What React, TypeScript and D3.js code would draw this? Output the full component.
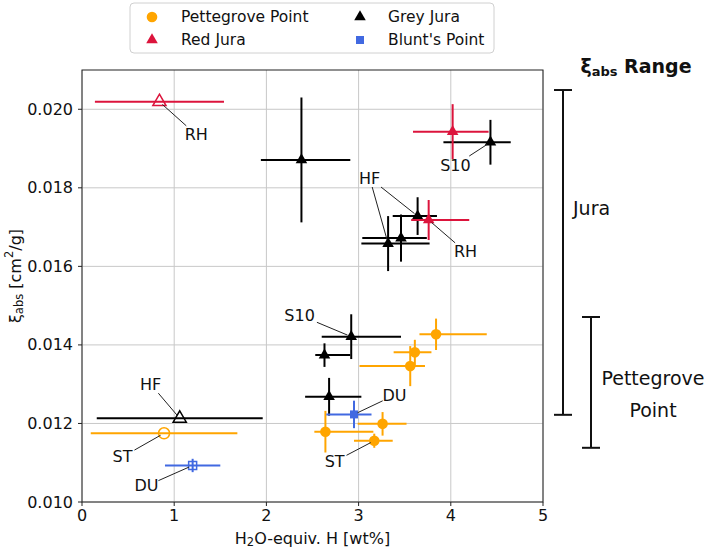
import React from "react";
import * as d3 from "d3";

// Pettegrove Point (filled circles)
const pettegroveX = [3.84, 3.61, 3.56, 3.26, 2.64, 3.17];
const pettegroveY = [0.01427, 0.01381, 0.01346, 0.01199, 0.01179, 0.01156];
const pettegroveXLo = [0.18, 0.23, 0.55, 0.27, 0.12, 0.22];
const pettegroveXHi = [0.55, 0.18, 0.16, 0.26, 0.52, 0.2];
const pettegroveYErr = [0.0004, 0.00032, 0.00051, 0.0003, 0.00053, 0.00018];

// Red Jura (filled triangles)
const redJuraX = [4.02, 3.76];
const redJuraY = [0.01943, 0.01718];
const redJuraXLo = [0.43, 0.19];
const redJuraXHi = [0.39, 0.44];
const redJuraYErr = [0.0007, 0.00051];

// Grey Jura (filled triangles)
const greyJuraX = [2.38, 4.43, 3.64, 3.32, 3.46, 2.92, 2.63, 2.68];
const greyJuraY = [0.01871, 0.01916, 0.01728, 0.01658, 0.01672, 0.01421, 0.01374, 0.01268];
const greyJuraXLo = [0.44, 0.51, 0.27, 0.29, 0.42, 0.32, 0.1, 0.26];
const greyJuraXHi = [0.53, 0.22, 0.21, 0.45, 0.28, 0.54, 0.28, 0.35];
const greyJuraYErr = [0.00159, 0.00057, 0.00048, 0.0007, 0.0006, 0.00057, 0.0003, 0.00048];

// Blunt's Point (filled squares)
const bluntX = [2.95];
const bluntY = [0.01223];
const bluntXLo = [0.3];
const bluntXHi = [0.19];
const bluntYErr = [0.00035];

// open markers, one per group: pettegrove, red, grey, blunt
const openX = [0.89, 0.84, 1.06, 1.2];
const openY = [0.01175, 0.02019, 0.01213, 0.01093];
const openXErr = [0.795, 0.7, 0.9, 0.3];
const openYErr = [0, 0, 0, 0.00017];

// point labels: text, label position (data), targets [group, index]
const annotText = ["RH", "RH", "S10", "HF", "S10", "DU", "ST", "HF", "ST", "DU"];
const annotX = [1.24, 4.16, 4.05, 3.12, 2.36, 3.39, 2.74, 0.745, 0.44, 0.7];
const annotY = [0.01935, 0.01637, 0.01858, 0.01825, 0.01476, 0.01272, 0.01103, 0.013, 0.01115, 0.01041];
const annotTargets: [string, number][][] = [
  [["open", 1]],
  [["red", 1]],
  [["grey", 1]],
  [["grey", 2], ["grey", 3]],
  [["grey", 5]],
  [["blunt", 0]],
  [["pettegrove", 5]],
  [["open", 2]],
  [["open", 0]],
  [["open", 3]],
];

// xi_abs ranges on the right
const rangeLabels = ["Jura", "Pettegrove Point"];
const rangeLo = [0.01222, 0.01138];
const rangeHi = [0.02049, 0.01471];

const xTicks = [0, 1, 2, 3, 4, 5];
const yTicks = [0.01, 0.012, 0.014, 0.016, 0.018, 0.02];

const W = 709, H = 548;
const left = 82, right = 543, top = 70, bottom = 502;
const FONT = "DejaVu Sans";

const ORANGE = "#ffa500";
const CRIMSON = "#dc143c";
const BLACK = "#000000";
const BLUE = "#4169e1";

const x = d3.scaleLinear().domain([0, 5]).range([left, right]);
const y = d3.scaleLinear().domain([0.01, 0.021]).range([bottom, top]);

const tri = d3.symbol().type(d3.symbolTriangle).size(58)()!;
const triOpen = d3.symbol().type(d3.symbolTriangle).size(75)()!;
const sq = d3.symbol().type(d3.symbolSquare).size(64)()!;

type Series = {
  key: string; color: string; shape: string;
  xs: number[]; ys: number[]; xlo: number[]; xhi: number[]; yerr: number[];
};

const series: Series[] = [
  { key: "pettegrove", color: ORANGE, shape: "circle", xs: pettegroveX, ys: pettegroveY, xlo: pettegroveXLo, xhi: pettegroveXHi, yerr: pettegroveYErr },
  { key: "grey", color: BLACK, shape: "tri", xs: greyJuraX, ys: greyJuraY, xlo: greyJuraXLo, xhi: greyJuraXHi, yerr: greyJuraYErr },
  { key: "red", color: CRIMSON, shape: "tri", xs: redJuraX, ys: redJuraY, xlo: redJuraXLo, xhi: redJuraXHi, yerr: redJuraYErr },
  { key: "blunt", color: BLUE, shape: "square", xs: bluntX, ys: bluntY, xlo: bluntXLo, xhi: bluntXHi, yerr: bluntYErr },
];
const openColors = [ORANGE, CRIMSON, BLACK, BLUE];
const openShapes = ["circle", "tri", "tri", "square"];

function marker(shape: string, color: string, cx: number, cy: number, open = false) {
  const fill = open ? "none" : color;
  const sw = open ? 1.5 : 0;
  if (shape === "circle")
    return <circle cx={cx} cy={cy} r={open ? 5.5 : 5.3} fill={open ? "none" : color} stroke={color} strokeWidth={open ? 1.5 : 0} />;
  if (shape === "tri")
    return <path d={open ? triOpen : tri} transform={`translate(${cx},${cy})`} fill={fill} stroke={color} strokeWidth={sw} />;
  return <path d={sq} transform={`translate(${cx},${cy})`} fill={fill} stroke={color} strokeWidth={sw} />;
}

function targetPos(g: string, i: number): [number, number] {
  if (g === "open") return [x(openX[i]), y(openY[i])];
  const s = series.find((d) => d.key === g)!;
  return [x(s.xs[i]), y(s.ys[i])];
}

// line from the label's box edge to the marker, as matplotlib's annotate draws it
function labelLine(lx: number, ly: number, tx: number, ty: number, text: string, fs: number) {
  const hw = (text.length * 0.68 * fs) / 2 + 1;
  const hh = fs * 0.5 + 1;
  const dx = tx - lx, dy = ty - ly;
  const t = Math.min(Math.abs(dx) > 0 ? hw / Math.abs(dx) : Infinity, Math.abs(dy) > 0 ? hh / Math.abs(dy) : Infinity);
  const sx = lx + dx * t, sy = ly + dy * t;
  const len = Math.hypot(tx - sx, ty - sy);
  const shrink = 4;
  const ex = tx - ((tx - sx) / len) * shrink, ey = ty - ((ty - sy) / len) * shrink;
  return d3.line()([[sx, sy], [ex, ey]])!;
}

export default function App() {
  const fs = 16;
  const jx = 563, px = 591, cap = 9;
  return (
    <svg width={W} height={H} style={{ position: "absolute", left: 0, top: 0, background: "white" }} fontFamily={FONT}>
      {/* grid */}
      {xTicks.map((t) => (
        <line key={"gx" + t} x1={x(t)} x2={x(t)} y1={top} y2={bottom} stroke="#c8c8c8" strokeWidth={1} />
      ))}
      {yTicks.map((t) => (
        <line key={"gy" + t} x1={left} x2={right} y1={y(t)} y2={y(t)} stroke="#c8c8c8" strokeWidth={1} />
      ))}

      {/* open reference points */}
      {openX.map((v, i) => (
        <g key={"o" + i}>
          <line x1={x(v - openXErr[i])} x2={x(v + openXErr[i])} y1={y(openY[i])} y2={y(openY[i])} stroke={openColors[i]} strokeWidth={2} />
          {openYErr[i] > 0 && (
            <line x1={x(v)} x2={x(v)} y1={y(openY[i] - openYErr[i])} y2={y(openY[i] + openYErr[i])} stroke={openColors[i]} strokeWidth={2} />
          )}
          {marker(openShapes[i], openColors[i], x(v), y(openY[i]), true)}
        </g>
      ))}

      {/* series with error bars */}
      {series.map((s) => (
        <g key={s.key}>
          {s.xs.map((v, i) => (
            <g key={i}>
              <line x1={x(v - s.xlo[i])} x2={x(v + s.xhi[i])} y1={y(s.ys[i])} y2={y(s.ys[i])} stroke={s.color} strokeWidth={2} />
              <line x1={x(v)} x2={x(v)} y1={y(s.ys[i] - s.yerr[i])} y2={y(s.ys[i] + s.yerr[i])} stroke={s.color} strokeWidth={2} />
              {marker(s.shape, s.color, x(v), y(s.ys[i]))}
            </g>
          ))}
        </g>
      ))}

      {/* annotations */}
      {annotText.map((t, i) => {
        const lx = x(annotX[i]), ly = y(annotY[i]);
        return (
          <g key={"a" + i}>
            {annotTargets[i].map(([g, j], k) => {
              const [tx, ty] = targetPos(g, j);
              return <path key={k} d={labelLine(lx, ly, tx, ty, t, 16)} stroke="#222" strokeWidth={1} fill="none" />;
            })}
            <text x={lx} y={ly} textAnchor="middle" dominantBaseline="central" fontSize={16} fill="#111">{t}</text>
          </g>
        );
      })}

      {/* frame */}
      <rect x={left} y={top} width={right - left} height={bottom - top} fill="none" stroke="#222" strokeWidth={1} />

      {/* x axis */}
      {xTicks.map((t) => (
        <g key={"xt" + t}>
          <line x1={x(t)} x2={x(t)} y1={bottom} y2={bottom + 4} stroke="#222" />
          <text x={x(t)} y={bottom + 13} textAnchor="middle" dominantBaseline="central" fontSize={fs} fill="#111">{t}</text>
        </g>
      ))}
      <text x={(left + right) / 2} y={538} textAnchor="middle" dominantBaseline="central" fontSize={fs} fill="#111">
        H<tspan fontSize={11.5} dy={4}>2</tspan><tspan dy={-4}>O-equiv. H [wt%]</tspan>
      </text>

      {/* y axis */}
      {yTicks.map((t) => (
        <g key={"yt" + t}>
          <line x1={left - 4} x2={left} y1={y(t)} y2={y(t)} stroke="#222" />
          <text x={left - 9} y={y(t)} textAnchor="end" dominantBaseline="central" fontSize={fs} fill="#111">{d3.format(".3f")(t)}</text>
        </g>
      ))}
      <text transform={`translate(15,${(top + bottom) / 2 - 10}) rotate(-90)`} textAnchor="middle" dominantBaseline="central" fontSize={fs} fill="#111">
        ξ<tspan fontSize={11.5} dy={4}>abs</tspan><tspan dy={-4}> [cm</tspan><tspan fontSize={11.5} dy={-6}>2</tspan><tspan dy={6}>/g]</tspan>
      </text>

      {/* legend */}
      <rect x={130} y={3} width={364} height={50} rx={4} fill="white" fillOpacity={0.8} stroke="#d0d0d0" />
      {marker("circle", ORANGE, 152, 17)}
      <text x={181} y={17} dominantBaseline="central" fontSize={15.5} fill="#111">Pettegrove Point</text>
      {marker("tri", CRIMSON, 152, 40)}
      <text x={181} y={40} dominantBaseline="central" fontSize={15.5} fill="#111">Red Jura</text>
      {marker("tri", BLACK, 360, 17)}
      <text x={388} y={17} dominantBaseline="central" fontSize={15.5} fill="#111">Grey Jura</text>
      {marker("square", BLUE, 360, 40)}
      <text x={388} y={40} dominantBaseline="central" fontSize={15.5} fill="#111">Blunt's Point</text>

      {/* range panel */}
      <text x={636} y={66} textAnchor="middle" dominantBaseline="central" fontSize={19} fontWeight="bold" fill="#111">
        ξ<tspan fontSize={13} dy={5}>abs</tspan><tspan dy={-5}> Range</tspan>
      </text>
      {[jx, px].map((bx, i) => (
        <g key={"r" + i} stroke="#111" strokeWidth={2}>
          <line x1={bx} x2={bx} y1={y(rangeLo[i])} y2={y(rangeHi[i])} />
          <line x1={bx - cap} x2={bx + cap} y1={y(rangeLo[i])} y2={y(rangeLo[i])} />
          <line x1={bx - cap} x2={bx + cap} y1={y(rangeHi[i])} y2={y(rangeHi[i])} />
        </g>
      ))}
      <text x={573} y={208} dominantBaseline="central" fontSize={19} fill="#111">{rangeLabels[0]}</text>
      <text x={653} y={378} textAnchor="middle" dominantBaseline="central" fontSize={19} fill="#111">{rangeLabels[1].split(" ")[0]}</text>
      <text x={653} y={410} textAnchor="middle" dominantBaseline="central" fontSize={19} fill="#111">{rangeLabels[1].split(" ")[1]}</text>
    </svg>
  );
}
